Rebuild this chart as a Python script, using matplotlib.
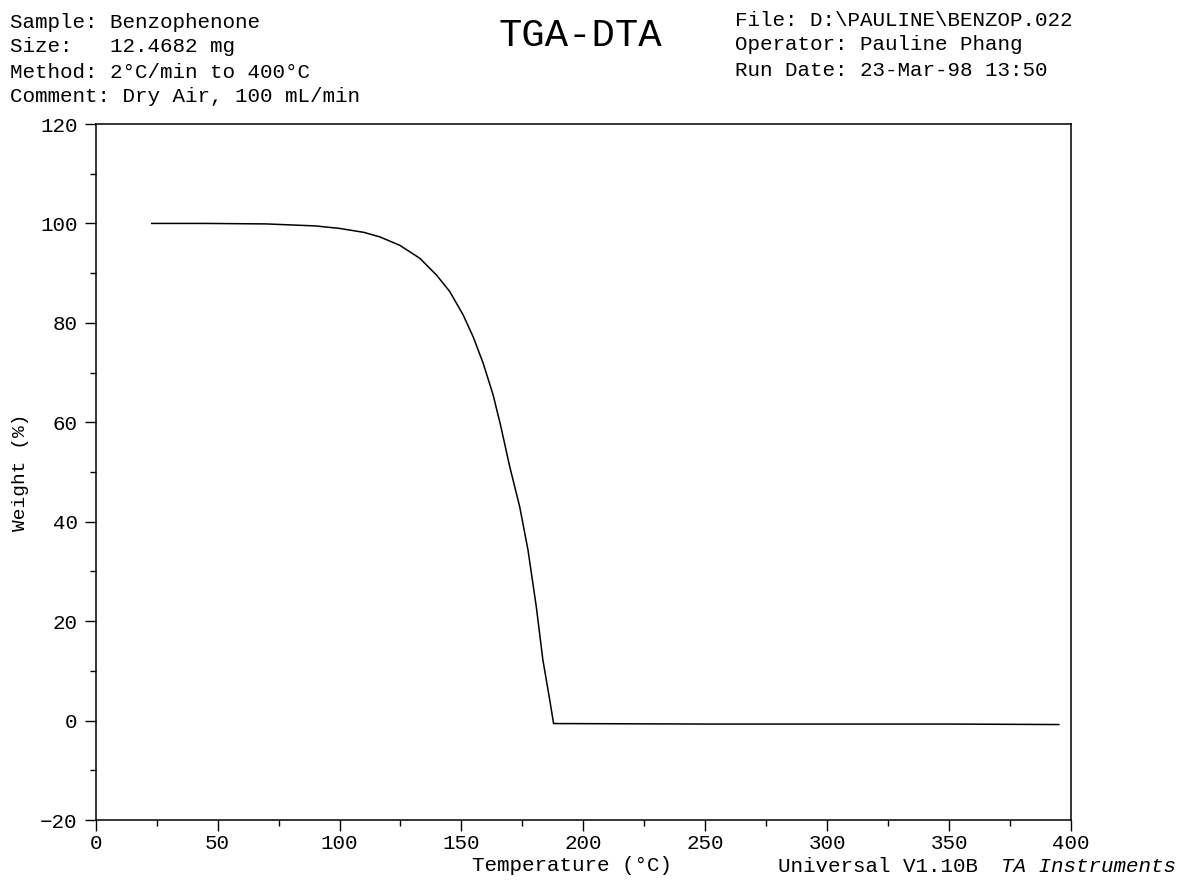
import matplotlib
matplotlib.use("Agg")
import matplotlib.pyplot as plt
from matplotlib.ticker import MultipleLocator

# ---- data ----
temperature = [23, 45, 70, 90, 100, 110, 116.5, 124.7, 132.9, 139.8, 145.2, 150.7,
               154.8, 158.9, 163, 166, 169.8, 173.9, 177.3, 180.7, 183.4, 186.2,
               187.8, 250, 300, 350, 395]
weight = [100.0, 100.0, 99.9, 99.5, 99.0, 98.2, 97.3, 95.6, 93.0, 89.6, 86.3, 81.6,
          77.2, 71.9, 65.5, 59.5, 51.1, 43.0, 34.3, 22.9, 12.2, 4.2,
          -0.6, -0.7, -0.7, -0.7, -0.8]

x_ticks = [0, 50, 100, 150, 200, 250, 300, 350, 400]
y_ticks = [-20, 0, 20, 40, 60, 80, 100, 120]

header_left = ["Sample: Benzophenone", "Size:   12.4682 mg",
               "Method: 2°C/min to 400°C", "Comment: Dry Air, 100 mL/min"]
header_right = ["File: D:\\PAULINE\\BENZOP.022", "Operator: Pauline Phang",
                "Run Date: 23-Mar-98 13:50"]
title = "TGA-DTA"
x_label = "Temperature (°C)"
y_label = "Weight (%)"

FONT = ["Liberation Mono", "DejaVu Sans Mono"]
plt.rcParams["font.family"] = FONT

W, H = 1180, 882
fig = plt.figure(figsize=(W / 100, H / 100), dpi=100)
ax = fig.add_axes([95.7 / W, 1 - 820 / H, (1071 - 95.7) / W, (820 - 124) / H])

ax.plot(temperature, weight, color="black", lw=1.1)

ax.set_xlim(0, 400)
ax.set_ylim(-20, 120)
ax.set_xticks(x_ticks)
ax.set_yticks(y_ticks)
ax.xaxis.set_minor_locator(MultipleLocator(25))
ax.yaxis.set_minor_locator(MultipleLocator(10))
ax.tick_params(which="major", direction="out", length=8, width=1,
               labelsize=15, colors="black")
ax.tick_params(axis="x", which="major", pad=2)
ax.tick_params(axis="y", which="major", pad=5)
ax.tick_params(which="minor", direction="out", length=4, width=1)
for sp in ax.spines.values():
    sp.set_linewidth(1.1)

ax.set_xlabel(x_label, fontsize=15)
ax.set_ylabel(y_label, fontsize=14, labelpad=8)
ax.xaxis.set_label_coords(0.488, -0.052)

fs = 15
for i, t in enumerate(header_left):
    fig.text(10 / W, 1 - (22 + 25 * i) / H, t, fontsize=fs, va="center", ha="left")
for i, t in enumerate(header_right):
    fig.text(735 / W, 1 - (20 + 25 * i) / H, t, fontsize=fs, va="center", ha="left")
fig.text(580 / W, 1 - 36 / H, title, fontsize=28, va="center", ha="center")

fig.text(778 / W, 1 - 866 / H, "Universal V1.10B ", fontsize=fs, va="center", ha="left")
fig.text(1176 / W, 1 - 866 / H, "TA Instruments", fontsize=fs, va="center", ha="right",
         style="italic")

fig.savefig("out.png", dpi=100)
